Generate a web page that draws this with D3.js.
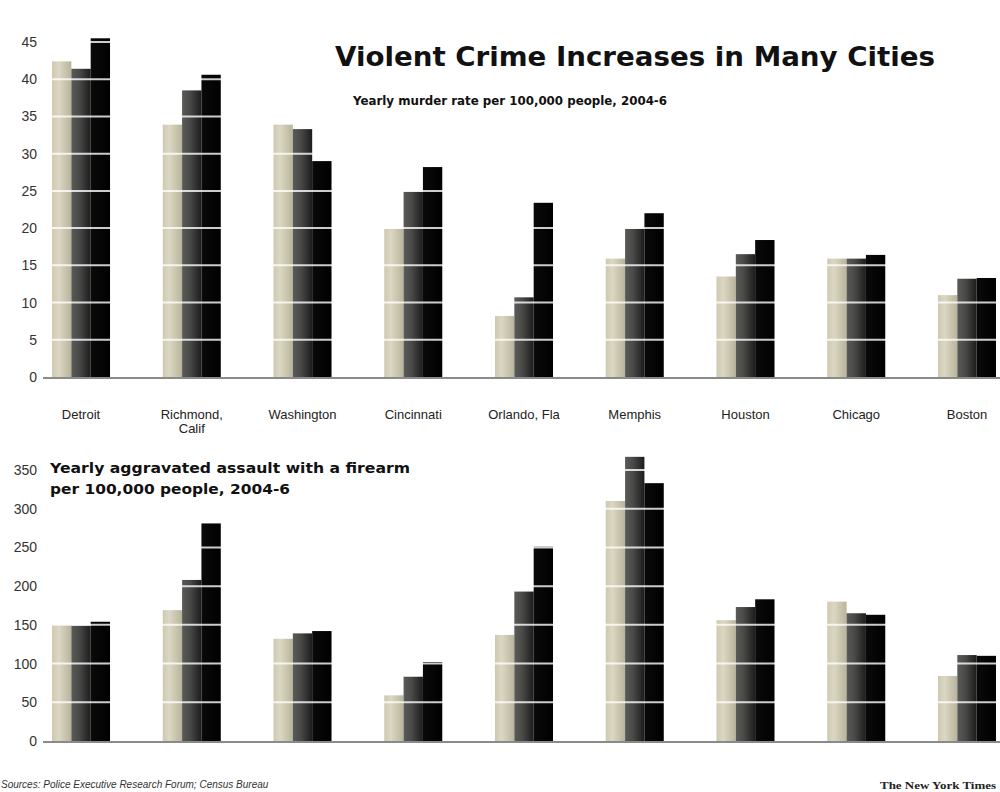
<!DOCTYPE html>
<html>
<head>
<meta charset="utf-8">
<script src="https://cdn.jsdelivr.net/npm/d3@7"></script>
<style>
  html, body { margin: 0; padding: 0; background: #fff; }
  svg { display: block; font-family: "Liberation Sans", Arial, sans-serif; }
</style>
</head>
<body>
<svg id="chart" width="1000" height="792"></svg>
<script>
const cities = ["Detroit", "Richmond,\nCalif", "Washington", "Cincinnati", "Orlando, Fla", "Memphis", "Houston", "Chicago", "Boston"]
const years = ["2004", "2005", "2006"]

// murder rate per 100,000
const murder2004 = [42.4, 33.9, 33.9, 19.9, 8.2, 15.9, 13.5, 15.9, 11.0]
const murder2005 = [41.4, 38.5, 33.3, 24.9, 10.7, 19.9, 16.5, 15.9, 13.2]
const murder2006 = [45.5, 40.6, 29.0, 28.2, 23.4, 22.0, 18.4, 16.4, 13.3]
const murderTicks = [0, 5, 10, 15, 20, 25, 30, 35, 40, 45]

// aggravated assault with a firearm per 100,000
const assault2004 = [150, 169, 132, 59, 137, 310, 156, 180, 84]
const assault2005 = [149, 208, 139, 83, 193, 367, 173, 165, 111]
const assault2006 = [154, 281, 142, 102, 251, 333, 183, 163, 110]
const assaultTicks = [0, 50, 100, 150, 200, 250, 300, 350]

const svg = d3.select("#chart")
const defs = svg.append("defs")

// bar shading, light khaki / dark grey / black
const grads = [
  {id: "g2004", stops: [["0%", "#cdc9b1"], ["35%", "#dcd7c2"], ["100%", "#b8b39b"]]},
  {id: "g2005", stops: [["0%", "#5a5a58"], ["40%", "#4a4a48"], ["100%", "#1c1c1c"]]},
  {id: "g2006", stops: [["0%", "#0a0a0a"], ["100%", "#000"]]},
]
grads.forEach((g) => {
  const lg = defs.append("linearGradient").attr("id", g.id).attr("x1", 0).attr("x2", 1).attr("y1", 0).attr("y2", 0)
  g.stops.forEach(([o, c]) => lg.append("stop").attr("offset", o).attr("stop-color", c))
})

const x = d3.scaleBand().domain(cities).range([52, 996]).paddingInner(0.476).paddingOuter(0)
const xi = d3.scaleBand().domain(years).range([0, x.bandwidth()])

function panel(series, ticks, y) {
  const g = svg.append("g")
  const rows = cities.map((c, i) => ({city: c, vals: years.map((yr, j) => ({yr, v: series[j][i]}))}))

  const grp = g.selectAll("g.city").data(rows).join("g")
    .attr("transform", (d) => `translate(${x(d.city)},0)`)
  grp.selectAll("rect").data((d) => d.vals).join("rect")
    .attr("x", (d) => xi(d.yr))
    .attr("width", xi.bandwidth())
    .attr("y", (d) => y(d.v))
    .attr("height", (d) => y(0) - y(d.v))
    .attr("fill", (d) => `url(#g${d.yr})`)

  // white grid lines run over the bars
  g.selectAll("line.grid").data(ticks.filter((t) => t > 0)).join("line")
    .attr("x1", 43).attr("x2", 1000)
    .attr("y1", (d) => y(d)).attr("y2", (d) => y(d))
    .attr("stroke", "#fff").attr("stroke-width", 2).attr("opacity", 0.8)

  g.append("line")
    .attr("x1", 43).attr("x2", 1000)
    .attr("y1", y(0) + 1).attr("y2", y(0) + 1)
    .attr("stroke", "#8a8a8a").attr("stroke-width", 2)

  const ax = g.append("g").attr("transform", "translate(37,0)")
    .call(d3.axisLeft(y).tickValues(ticks).tickSize(0).tickPadding(0))
  ax.select(".domain").remove()
  ax.selectAll("text").attr("font-size", 14).attr("fill", "#333")
    .attr("font-family", "'Liberation Sans Narrow', 'Liberation Sans', Arial, sans-serif")
}

const yTop = d3.scaleLinear().domain([0, 45]).range([377, 42])
const yBot = d3.scaleLinear().domain([0, 350]).range([741, 470])

panel([murder2004, murder2005, murder2006], murderTicks, yTop)
panel([assault2004, assault2005, assault2006], assaultTicks, yBot)

// city labels between the panels
const lab = svg.append("g").attr("font-size", 13).attr("fill", "#222").attr("text-anchor", "middle")
cities.forEach((c) => {
  const t = lab.append("text").attr("x", x(c) + x.bandwidth() / 2).attr("y", 419)
  c.split("\n").forEach((s, k) => t.append("tspan").attr("x", x(c) + x.bandwidth() / 2).attr("dy", k ? 14 : 0).text(s))
})

const heavy = "'DejaVu Sans', 'Liberation Sans', Arial, sans-serif"

svg.append("text").attr("x", 335).attr("y", 66)
  .attr("font-size", 26).attr("font-weight", "bold").attr("fill", "#111")
  .attr("font-family", heavy)
  .attr("textLength", 600).attr("lengthAdjust", "spacingAndGlyphs")
  .text("Violent Crime Increases in Many Cities")

svg.append("text").attr("x", 353).attr("y", 105)
  .attr("font-size", 12).attr("font-weight", "bold").attr("fill", "#111")
  .attr("font-family", heavy)
  .attr("textLength", 314).attr("lengthAdjust", "spacingAndGlyphs")
  .text("Yearly murder rate per 100,000 people, 2004-6")

const sub2 = svg.append("g").attr("font-size", 14).attr("font-weight", "bold").attr("fill", "#111")
  .attr("font-family", heavy)
sub2.append("text").attr("x", 50).attr("y", 473)
  .attr("textLength", 360).attr("lengthAdjust", "spacingAndGlyphs")
  .text("Yearly aggravated assault with a firearm")
sub2.append("text").attr("x", 50).attr("y", 494)
  .attr("textLength", 240).attr("lengthAdjust", "spacingAndGlyphs")
  .text("per 100,000 people, 2004-6")

svg.append("text").attr("x", 1).attr("y", 788)
  .attr("font-size", 10).attr("font-style", "italic").attr("fill", "#333")
  .attr("font-family", "'Liberation Sans Narrow', 'Liberation Sans', Arial, sans-serif")
  .text("Sources: Police Executive Research Forum; Census Bureau")

svg.append("text").attr("x", 880).attr("y", 789)
  .attr("font-size", 11).attr("font-weight", "bold").attr("fill", "#222")
  .attr("font-family", "'Liberation Serif', serif")
  .attr("textLength", 116).attr("lengthAdjust", "spacingAndGlyphs")
  .text("The New York Times")
</script>
</body>
</html>
